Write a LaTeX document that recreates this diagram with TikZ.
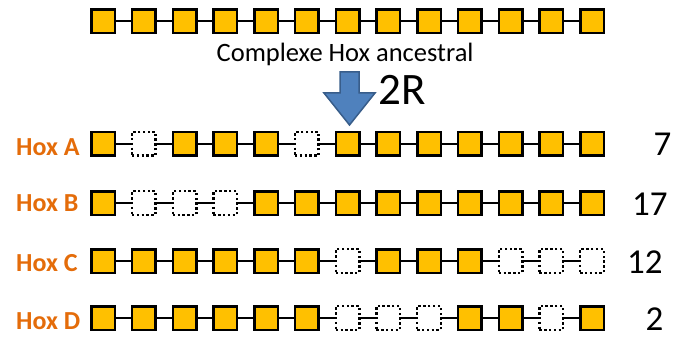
\documentclass[tikz,border=0pt]{standalone}
\usepackage{fontspec}
\setmainfont{Carlito}
\definecolor{gold}{HTML}{FFC000}
\definecolor{hoxorange}{HTML}{E46C0A}
\definecolor{arrowfill}{HTML}{4F81BD}
\definecolor{arrowline}{HTML}{385D8A}
\begin{document}
\begin{tikzpicture}[x=1pt,y=-1pt,
  gene/.style={draw=black, line width=2.5pt, fill=gold, minimum size=23.5pt, inner sep=0pt},
  lost/.style={draw=black, line width=2.4pt, dash pattern={on 2.4pt off 2.4pt}, minimum size=23.6pt, inner sep=0pt},
  link/.style={line width=1.8pt, black},
  hoxlabel/.style={text=hoxorange, font=\fontsize{26}{26}\selectfont\bfseries, anchor=base west, inner sep=0pt},
  count/.style={font=\fontsize{35}{35}\selectfont, anchor=base west, inner sep=0pt},
  caption/.style={anchor=base west, inner sep=0pt}]
\useasboundingbox (0,0) rectangle (681,337);
\foreach \r/\yy/\pat in {
  t/21.3/{gene,gene,gene,gene,gene,gene,gene,gene,gene,gene,gene,gene,gene},
  a/143.8/{gene,lost,gene,gene,gene,lost,gene,gene,gene,gene,gene,gene,gene},
  b/203/{gene,lost,lost,lost,gene,gene,gene,gene,gene,gene,gene,gene,gene},
  c/261/{gene,gene,gene,gene,gene,gene,lost,gene,gene,gene,lost,lost,lost},
  d/318/{gene,gene,gene,gene,gene,gene,lost,lost,lost,gene,gene,lost,gene}}{
  \foreach \s [count=\i] in \pat {
    \node[style=\s] (\r\i) at ({103+40.75*(\i-1)},\yy) {};
  }
  \foreach \i in {1,...,12} {
    \pgfmathtruncatemacro\k{\i+1}
    \draw[link] (\r\i) -- (\r\k);
  }
}
\node[caption, font=\fontsize{26.5}{26.5}\selectfont] (title) at (216.5,61.3) {Complexe Hox ancestral};
\draw[arrowline, line width=1.5pt, fill=arrowfill, line join=miter]
  (340,72) -- (359,72) -- (359,93) -- (375,93) -- (349.5,125) -- (324,93) -- (340,93) -- cycle;
\node[caption, font=\fontsize{45}{45}\selectfont] (tworr) at (378,105) {2R};
\node[hoxlabel] (la) at (16,156) {Hox A};
\node[hoxlabel] (lb) at (16,211.7) {Hox B};
\node[hoxlabel] (lc) at (16,271.7) {Hox C};
\node[hoxlabel] (ld) at (16,329) {Hox D};
\node[count] (na) at (653.5,155) {7};
\node[count] (nb) at (632,215) {17};
\node[count] (nc) at (627,273.3) {12};
\node[count] (nd) at (645.5,330.7) {2};
\end{tikzpicture}
\end{document}
